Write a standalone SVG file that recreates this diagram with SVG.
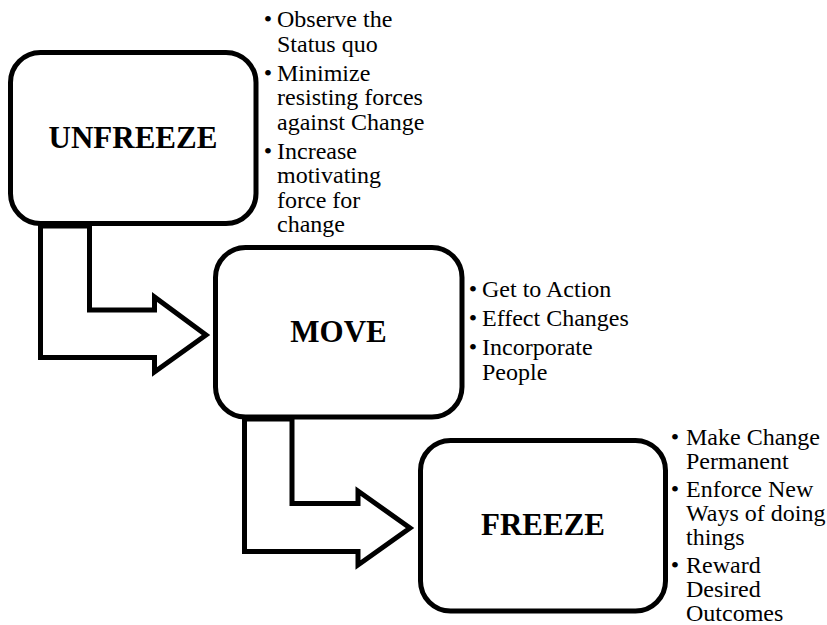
<svg xmlns="http://www.w3.org/2000/svg" width="827" height="625" viewBox="0 0 827 625">
<style>
.box{fill:#fff;stroke:#000;stroke-width:5}
.arrow{fill:#fff;stroke:#000;stroke-width:5;stroke-linejoin:miter}
.title{font-family:"Liberation Serif","Times New Roman",serif;font-weight:bold;font-size:31px;text-anchor:middle;fill:#000}
.b{font-family:"Liberation Serif","Times New Roman",serif;font-size:24px;fill:#000}
.dot{text-anchor:middle}
</style>
<rect width="827" height="625" fill="#fff"/>
<g id="connectors">
<polygon class="arrow" points="40.5,226 40.5,357.5 154.5,357.5 154.5,372 206,335 154.5,297 154.5,310 89.5,310 89.5,226"/>
<polygon class="arrow" points="244.5,419 244.5,551.5 358,551.5 358,565 410,528 358,491 358,503.5 292,503.5 292,419"/>
</g>
<g id="unfreeze">
<rect class="box" x="10.5" y="52.5" width="245.5" height="171" rx="30" ry="30"/>
<text class="title" x="133" y="148">UNFREEZE</text>
<g class="b">
<text class="dot" x="268" y="27">•</text>
<text x="277" y="27">Observe the</text>
<text x="277" y="51.5">Status quo</text>
<text class="dot" x="268" y="80.5">•</text>
<text x="277" y="80.5">Minimize</text>
<text x="277" y="105">resisting forces</text>
<text x="277" y="129.5">against Change</text>
<text class="dot" x="268" y="158.5">•</text>
<text x="277" y="158.5">Increase</text>
<text x="277" y="183">motivating</text>
<text x="277" y="207.5">force for</text>
<text x="277" y="232">change</text>
</g>
</g>
<g id="move">
<rect class="box" x="215.5" y="247.5" width="246.5" height="169.5" rx="30" ry="30"/>
<text class="title" x="338.5" y="342">MOVE</text>
<g class="b">
<text class="dot" x="473" y="297">•</text>
<text x="482" y="297">Get to Action</text>
<text class="dot" x="473" y="326">•</text>
<text x="482" y="326">Effect Changes</text>
<text class="dot" x="473" y="355">•</text>
<text x="482" y="355">Incorporate</text>
<text x="482" y="379.5">People</text>
</g>
</g>
<g id="freeze">
<rect class="box" x="420.5" y="440.5" width="245" height="170.5" rx="30" ry="30"/>
<text class="title" x="543" y="535">FREEZE</text>
<g class="b">
<text class="dot" x="675" y="445">•</text>
<text x="686" y="445">Make Change</text>
<text x="686" y="469.2">Permanent</text>
<text class="dot" x="675" y="496.9">•</text>
<text x="686" y="496.9">Enforce New</text>
<text x="686" y="521.1">Ways of doing</text>
<text x="686" y="545.3">things</text>
<text class="dot" x="675" y="573">•</text>
<text x="686" y="573">Reward</text>
<text x="686" y="597.2">Desired</text>
<text x="686" y="621.4">Outcomes</text>
</g>
</g>
</svg>
